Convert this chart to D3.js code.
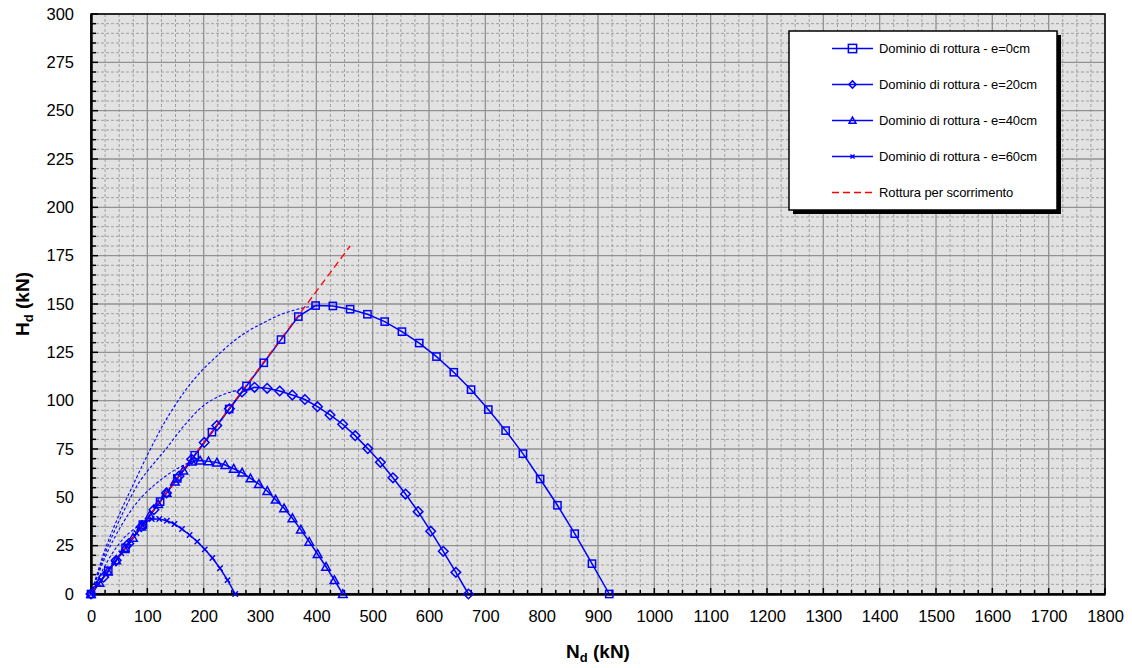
<!DOCTYPE html>
<html><head><meta charset="utf-8">
<script src="https://cdn.jsdelivr.net/npm/d3@7"></script>
<style>
body{margin:0;background:#fff;}
svg text{font-family:"Liberation Sans",Arial,Helvetica,sans-serif;fill:#000;}
</style>
</head><body>
<svg id="chart" width="1132" height="668"></svg>
<script>
// ---------- data ----------
const xTickLabels = [0,100,200,300,400,500,600,700,800,900,1000,1100,1200,1300,1400,1500,1600,1700,1800];
const yTickLabels = [0,25,50,75,100,125,150,175,200,225,250,275,300];
const seriesNames = ["Dominio di rottura - e=0cm","Dominio di rottura - e=20cm","Dominio di rottura - e=40cm","Dominio di rottura - e=60cm"];
const frictionName = "Rottura per scorrimento";

// e = 0 cm
const nE0 = [0,30.7,61.3,92.0,122.7,153.3,184.0,214.7,245.3,276.0,306.7,337.3,368.0,398.7,429.3,460.0,490.7,521.3,552.0,582.7,613.3,644.0,674.7,705.3,736.0,766.7,797.3,828.0,858.7,889.3,920.0];
const hE0 = [0,12.0,23.9,35.9,47.8,59.8,71.8,83.7,95.7,107.6,119.6,131.6,143.5,149.2,149.0,147.3,144.7,140.9,135.7,129.8,122.8,114.7,105.7,95.4,84.5,72.6,59.5,45.9,31.2,15.7,0];
// e = 20 cm
const nE20 = [0,22.3,44.7,67.0,89.3,111.7,134.0,156.3,178.7,201.0,223.3,245.7,268.0,290.3,312.7,335.0,357.3,379.7,402.0,424.3,446.7,469.0,491.3,513.7,536.0,558.3,580.7,603.0,625.3,647.7,670.0];
const hE20 = [0,8.7,17.4,26.1,34.8,43.6,52.3,61.0,69.7,78.4,87.1,95.8,104.5,106.9,106.4,105.0,102.9,100.6,96.9,92.6,87.8,81.9,75.2,68.1,60.1,51.7,42.6,32.5,22.1,11.2,0];
// e = 40 cm
const nE40 = [0,14.9,29.8,44.7,59.6,74.5,89.4,104.3,119.2,134.1,149.0,163.9,178.8,193.7,208.6,223.5,238.4,253.3,268.2,283.1,298.0,312.9,327.8,342.7,357.6,372.5,387.4,402.3,417.2,432.1,447.0];
const hE40 = [0,5.8,11.6,17.4,23.2,29.1,34.9,40.7,46.5,52.3,58.1,63.9,68.5,69.0,68.6,68.0,66.7,64.8,62.8,59.8,56.9,53.3,48.8,44.3,39.2,33.3,27.0,20.7,14.1,7.2,0];
// e = 60 cm
const nE60 = [0,13.5,26.9,40.4,53.9,67.4,80.8,94.3,107.8,121.2,134.7,148.2,161.6,175.1,188.6,202.0,215.5,229.0,242.4,256.0];
const hE60 = [0,5.3,10.5,15.8,21.0,26.3,31.5,36.8,38.8,38.8,37.9,36.2,33.6,30.5,27.1,23.1,18.6,13.3,7.2,0];

// domain curves above the sliding line (dashed, no markers)
const nDom0 = [0,25,50,74,103,133,168,195,225,252,282,311,341,371,399];
const hDom0 = [0,23,41,56,73.5,90,105.5,115,123.5,130.5,136.5,141,145,147.6,149.2];
const nDom20 = [0,25,55,86,110,133,168,200,229,252,270,290.3];
const hDom20 = [0,21,41,58,67,75,88,97.5,102.5,104.8,106,106.9];
const nDom40 = [0,25,55,85,115,140,160,178.8];
const hDom40 = [0,19,36,48.5,57,62.5,66,68.5];
const nDom60 = [0,20,40,60,80,94.3];
const hDom60 = [0,12,22,29.5,34.3,36.8];

// sliding failure line
const nFriction = [0,460];
const hFriction = [0,180];

// ---------- layout ----------
const svg = d3.select("#chart");
const L = 91, R = 1105, T = 14, B = 594;
const x = d3.scaleLinear().domain([0,1800]).range([L,R]);
const y = d3.scaleLinear().domain([0,300]).range([B,T]);
const blue = "#0000ff", red = "#ff0000";

// plot background
svg.append("rect").attr("x",L).attr("y",T).attr("width",R-L).attr("height",B-T).attr("fill","#e2e2e2");

// minor grid
const g = svg.append("g");
d3.range(0,1801,25).filter(v=>v%100!==0).forEach(v=>{
  g.append("line").attr("x1",x(v)).attr("x2",x(v)).attr("y1",T).attr("y2",B)
   .attr("stroke","#a0a0a0").attr("stroke-width",1).attr("stroke-dasharray","3,2");
});
d3.range(0,301,5).filter(v=>v%25!==0).forEach(v=>{
  g.append("line").attr("x1",L).attr("x2",R).attr("y1",y(v)).attr("y2",y(v))
   .attr("stroke","#a0a0a0").attr("stroke-width",1).attr("stroke-dasharray","3,2");
});
// major grid
xTickLabels.forEach(v=>{
  g.append("line").attr("x1",x(v)).attr("x2",x(v)).attr("y1",T).attr("y2",B)
   .attr("stroke","#929292").attr("stroke-width",1.3);
});
yTickLabels.forEach(v=>{
  g.append("line").attr("x1",L).attr("x2",R).attr("y1",y(v)).attr("y2",y(v))
   .attr("stroke","#929292").attr("stroke-width",1.3);
});

// frame
svg.append("rect").attr("x",L).attr("y",T).attr("width",R-L).attr("height",B-T)
  .attr("fill","none").attr("stroke","#000").attr("stroke-width",1.5);

// axes
const xAxis = d3.axisBottom(x).tickValues(xTickLabels).tickSize(0).tickPadding(16).tickFormat(d=>d);
const yAxis = d3.axisLeft(y).tickValues(yTickLabels).tickSize(0).tickPadding(17).tickFormat(d=>d);
const gx = svg.append("g").attr("transform",`translate(0,${B})`).call(xAxis);
const gy = svg.append("g").attr("transform",`translate(${L},0)`).call(yAxis);
[gx,gy].forEach(a=>{a.select(".domain").attr("stroke","#000").attr("stroke-width",2.5);
  a.selectAll("text").attr("font-size","16.5px").attr("font-family","Liberation Sans, Arial, sans-serif");});
// inward ticks
d3.range(0,1801,25).forEach(v=>{
  svg.append("line").attr("x1",x(v)).attr("x2",x(v)).attr("y1",B).attr("y2",B-(v%100===0?6:4)).attr("stroke","#000").attr("stroke-width",1.5);
});
d3.range(0,301,5).forEach(v=>{
  svg.append("line").attr("x1",L).attr("x2",L+(v%25===0?7:5)).attr("y1",y(v)).attr("y2",y(v)).attr("stroke","#000").attr("stroke-width",1.5);
});

// axis titles
const xt = svg.append("text").attr("x",598).attr("y",658).attr("text-anchor","middle")
  .attr("font-size","19px").attr("font-weight","bold");
xt.append("tspan").text("N");
xt.append("tspan").attr("font-size","13px").attr("dy",4).text("d");
xt.append("tspan").attr("dy",-4).text(" (kN)");
const yt = svg.append("text").attr("transform","translate(29,304) rotate(-90)").attr("text-anchor","middle")
  .attr("font-size","19px").attr("font-weight","bold");
yt.append("tspan").text("H");
yt.append("tspan").attr("font-size","13px").attr("dy",4).text("d");
yt.append("tspan").attr("dy",-4).text(" (kN)");

// ---------- curves ----------
const zip = (a,b)=>a.map((v,i)=>[v,b[i]]);
const smooth = d3.line().x(d=>x(d[0])).y(d=>y(d[1])).curve(d3.curveCatmullRom.alpha(0.5));
const straight = d3.line().x(d=>x(d[0])).y(d=>y(d[1]));
const plot = svg.append("g");

[[nDom0,hDom0],[nDom20,hDom20],[nDom40,hDom40],[nDom60,hDom60]].forEach(([n,h])=>{
  plot.append("path").attr("d",smooth(zip(n,h))).attr("fill","none")
    .attr("stroke",blue).attr("stroke-width",1.1).attr("stroke-dasharray","3,2");
});

const series = [
  {n:nE0,h:hE0,m:"square"},
  {n:nE20,h:hE20,m:"diamond"},
  {n:nE40,h:hE40,m:"triangle"},
  {n:nE60,h:hE60,m:"cross"}
];
function marker(sel,type,cx,cy,scale){
  const s = scale||1;
  if(type==="square"){
    sel.append("rect").attr("x",cx-3.6*s).attr("y",cy-3.6*s).attr("width",7.2*s).attr("height",7.2*s)
      .attr("fill","none").attr("stroke",blue).attr("stroke-width",1.5);
  } else if(type==="diamond"){
    const r=4.8*s;
    sel.append("path").attr("d",`M${cx},${cy-r}L${cx+r},${cy}L${cx},${cy+r}L${cx-r},${cy}Z`)
      .attr("fill","none").attr("stroke",blue).attr("stroke-width",1.5);
  } else if(type==="triangle"){
    const r=4.3*s;
    sel.append("path").attr("d",`M${cx},${cy-r}L${cx+r},${cy+r*0.8}L${cx-r},${cy+r*0.8}Z`)
      .attr("fill","none").attr("stroke",blue).attr("stroke-width",1.5);
  } else {
    const r=2.7*s;
    sel.append("path").attr("d",`M${cx-r},${cy-r}L${cx+r},${cy+r}M${cx-r},${cy+r}L${cx+r},${cy-r}`)
      .attr("stroke",blue).attr("stroke-width",1.4);
  }
}
series.forEach(s=>{
  const pts = zip(s.n,s.h);
  plot.append("path").attr("d",straight(pts)).attr("fill","none").attr("stroke",blue).attr("stroke-width",1.5);
});
// sliding line
plot.append("path").attr("d",straight(zip(nFriction,hFriction))).attr("fill","none")
  .attr("stroke",red).attr("stroke-width",1.3).attr("stroke-dasharray","7,4");
series.forEach(s=>{
  const gm = plot.append("g");
  zip(s.n,s.h).forEach(p=>marker(gm,s.m,x(p[0]),y(p[1])));
});

// ---------- legend ----------
const lg = svg.append("g");
const lx = 789, ly = 31, lw = 268, lh = 179;
lg.append("rect").attr("x",lx+4).attr("y",ly+4).attr("width",lw).attr("height",lh).attr("fill","#000");
lg.append("rect").attr("x",lx).attr("y",ly).attr("width",lw).attr("height",lh).attr("fill","#fff")
  .attr("stroke","#000").attr("stroke-width",1.5);
const rowsY = [48.5,84.5,120.5,156.5,192.5];
seriesNames.forEach((name,i)=>{
  const yy = rowsY[i];
  lg.append("line").attr("x1",832).attr("x2",873).attr("y1",yy).attr("y2",yy).attr("stroke",blue).attr("stroke-width",1.5);
  const ms = [1.15,0.75,0.8,0.75][i];
  marker(lg,series[i].m,852.5,yy,ms);
  lg.append("text").attr("x",879).attr("y",yy+4.5).attr("font-size","13px").attr("letter-spacing","-0.1px").text(name);
});
lg.append("line").attr("x1",832).attr("x2",873).attr("y1",rowsY[4]).attr("y2",rowsY[4])
  .attr("stroke",red).attr("stroke-width",1.3).attr("stroke-dasharray","7,4");
lg.append("text").attr("x",879).attr("y",rowsY[4]+4.5).attr("font-size","13px").attr("letter-spacing","-0.1px").text(frictionName);
</script>
</body></html>
